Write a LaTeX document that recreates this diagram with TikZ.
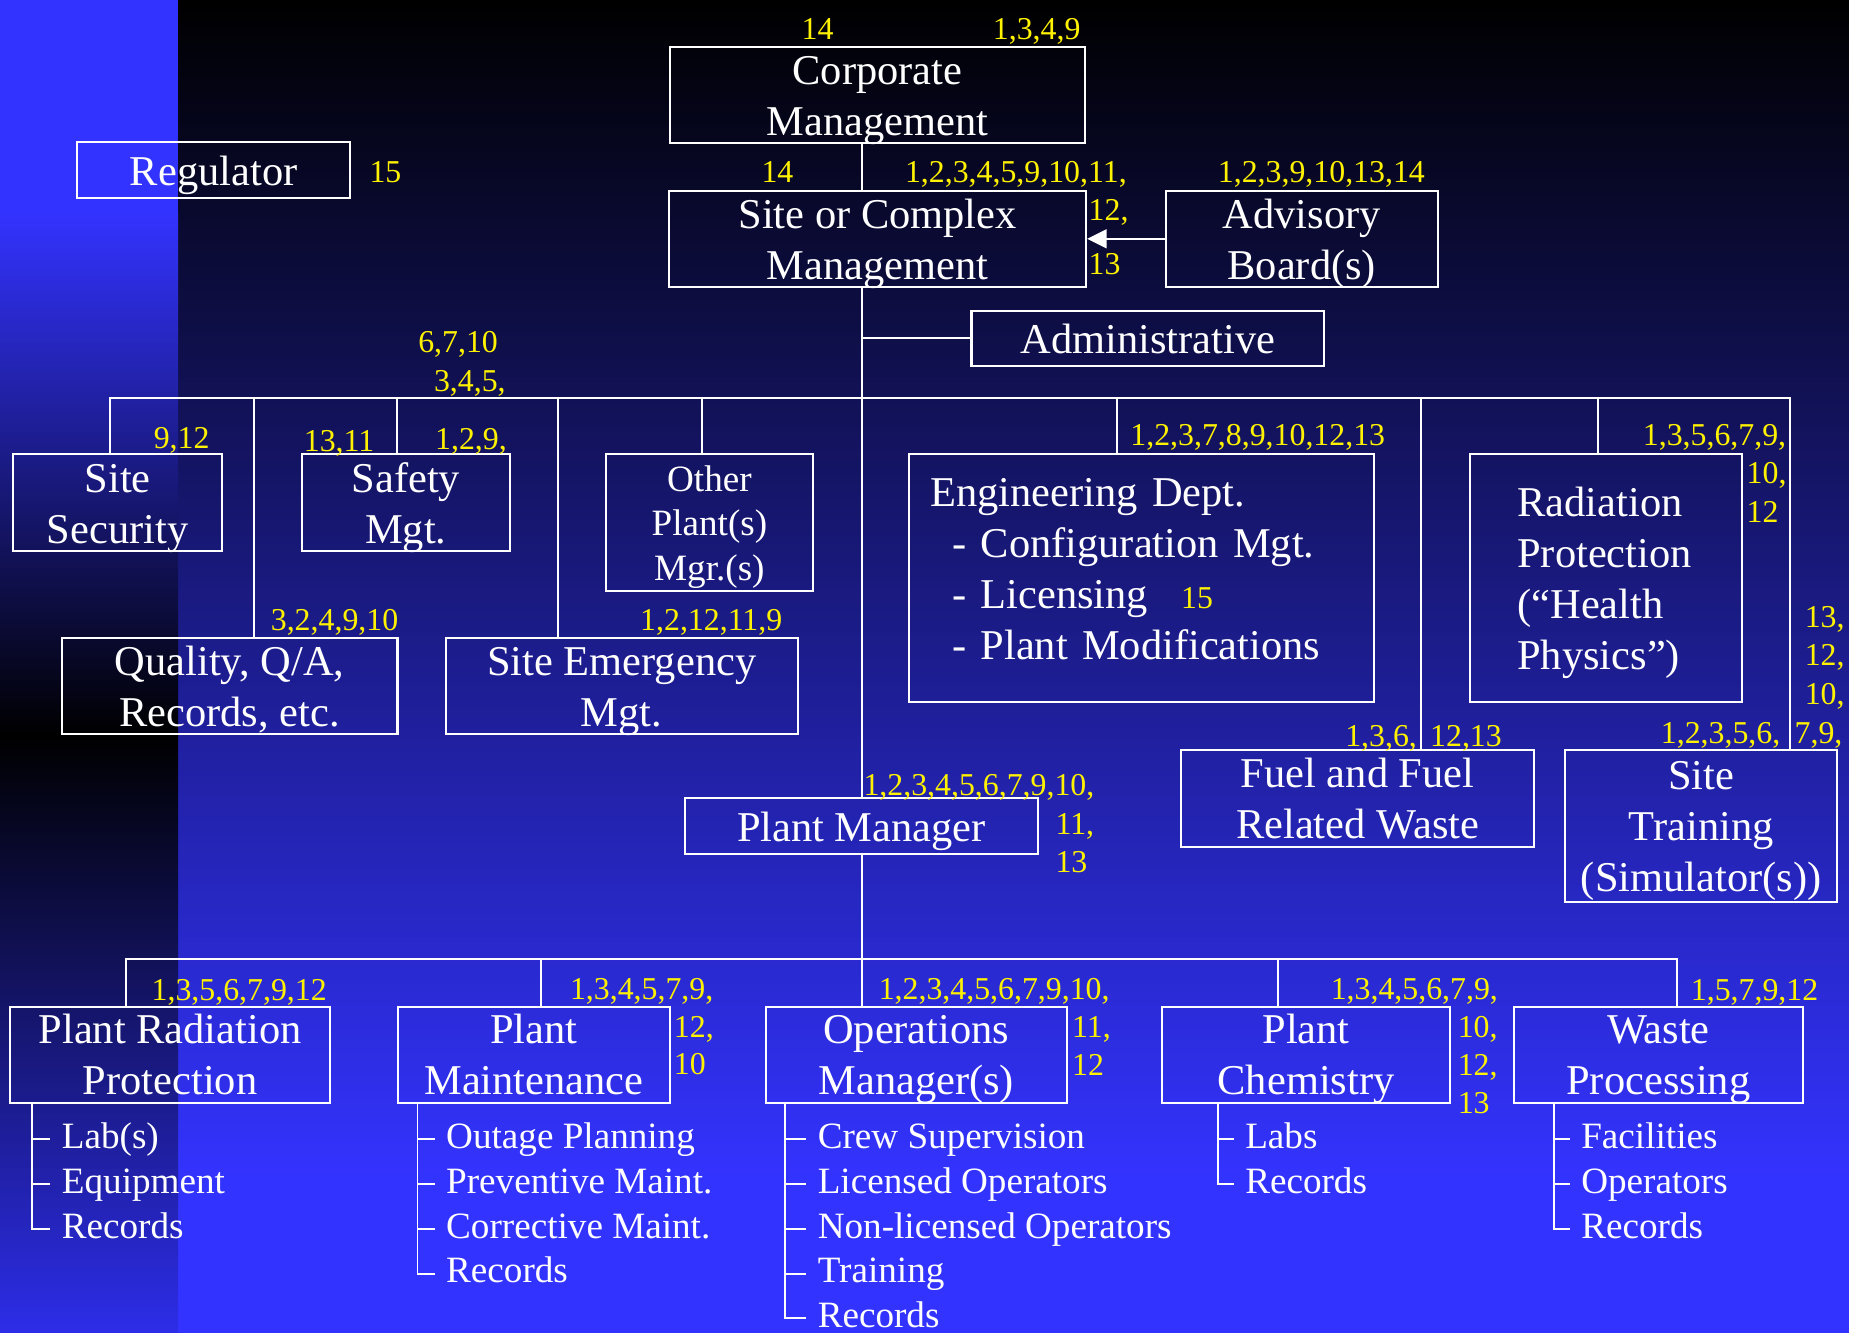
\documentclass[tikz,border=0pt]{standalone}
\usepackage{fontspec}
\setmainfont{Liberation Serif}
\usetikzlibrary{arrows.meta}
\definecolor{bblue}{RGB}{51,51,255}
\definecolor{sblue}{RGB}{45,45,232}
\newcommand\fb{\fontsize{36}{43.2}\selectfont}
\newcommand\fm{\fontsize{31.5}{37.8}\selectfont}
\newcommand\fy{\fontsize{27}{32.4}\selectfont}
\newcommand\sra{\rule[-9pt]{0pt}{43.2pt}}
\newcommand\srb{\rule[-7.9pt]{0pt}{37.8pt}}
\newcommand\src{\rule[-17.6pt]{0pt}{43.2pt}}
\begin{document}
\begin{tikzpicture}[x=1pt,y=-1pt,
 box/.style={draw=white,line width=1.8pt,text=white,font=\fb,align=center,inner xsep=0pt,inner ysep=-3pt},
 conn/.style={draw=white,line width=1.6pt},
 lab/.style={text=yellow,font=\fy,inner sep=0pt,anchor=base west,xshift=-2pt},
 itm/.style={text=white,font=\fm,inner xsep=9.5pt,inner ysep=0pt,anchor=base west,text height=21.5pt,text depth=5.5pt},
]
\useasboundingbox (0,0) rectangle (1568,1130);
% background
\fill[bblue] (0,0) rectangle (1568,1130);
\shade[top color=black,bottom color=bblue] (150.5,0) rectangle (1568,1000);
\fill[bblue] (0,0) rectangle (151,180.5);
\shade[top color=bblue,bottom color=black] (0,180) rectangle (151,623.5);
\shade[top color=black,bottom color=sblue] (0,623) rectangle (151,1130);

% top boxes
\node[box,minimum width=352pt,minimum height=81.6pt] (corp) at (744,80.8) {\sra Corporate\\\sra Management};
\node[box,minimum width=231.6pt,minimum height=47.2pt] (reg) at (181.2,144.3) {\sra Regulator};
\node[box,minimum width=353.7pt,minimum height=81.7pt] (site) at (744.2,202.5) {\sra Site or Complex\\\sra Management};
\node[box,minimum width=231pt,minimum height=81.7pt] (adv) at (1104,202.5) {\sra Advisory\\\sra Board(s)};
\node[box,minimum width=299pt,minimum height=47pt] (admin) at (973.3,287) {\sra Administrative};

% middle row
\node[box,minimum width=177.5pt,minimum height=82pt] (ss) at (99.8,426.3) {\sra Site\\\sra Security};
\node[box,minimum width=176.5pt,minimum height=82pt] (safe) at (344.2,426.3) {\sra Safety\\\sra Mgt.};
\node[box,font=\fm,minimum width=176pt,minimum height=115.8pt] (other) at (601.6,443.2) {\srb Other\\\srb Plant(s)\\\srb Mgr.(s)};
\node[box,minimum width=284.8pt,minimum height=81.4pt] (qa) at (194.7,582) {\sra Quality, Q/A,\\\sra Records, etc.};
\node[box,minimum width=298.5pt,minimum height=81.4pt] (emerg) at (527.2,582) {\sra Site Emergency\\\sra Mgt.};
\node[box,align=left,text width=358pt,inner xsep=18pt,minimum height=210pt] (eng) at (968,490.2)
 {\src Engineering Dept.\\\hspace*{18.7pt}\src- Configuration Mgt.\\\hspace*{18.7pt}\src- Licensing\hspace{28pt}{\color{yellow}\fy 15}\\\hspace*{18.7pt}\src- Plant Modifications};
\node[box,align=left,text width=150.3pt,inner xsep=40.3pt,minimum height=210pt] (rad) at (1361.9,490.2)
 {\sra Radiation\\\sra Protection\\\sra (“Health\\\sra Physics”)};
\node[box,minimum width=298.9pt,minimum height=81.8pt] (fuel) at (1151.3,677.1) {\sra Fuel and Fuel\\\sra Related Waste};
\node[box,minimum width=230.8pt,minimum height=128.5pt] (train) at (1442.6,700.5) {\sra Site\\\sra Training\\\sra (Simulator(s))};
\node[box,minimum width=298.9pt,minimum height=47.3pt] (pm) at (730.5,700.7) {\sra Plant Manager};

% bottom row
\node[box,minimum width=271.5pt,minimum height=81.4pt] (prp) at (144.3,894.3) {\sra Plant Radiation\\\sra Protection};
\node[box,minimum width=230.5pt,minimum height=81.4pt] (maint) at (452.8,894.3) {\sra Plant\\\sra Maintenance};
\node[box,minimum width=255pt,minimum height=81.4pt] (ops) at (777,894.3) {\sra Operations\\\sra Manager(s)};
\node[box,minimum width=244.1pt,minimum height=81.4pt] (chem) at (1107.6,894.3) {\sra Plant\\\sra Chemistry};
\node[box,minimum width=244.6pt,minimum height=81.4pt] (waste) at (1406.3,894.3) {\sra Waste\\\sra Processing};

% connectors
\coordinate (tr) at (730.8,0);
\draw[conn] (corp.south -| tr) -- (site.north -| tr);
\draw[conn] (site.south -| tr) -- (pm.north -| tr);
\draw[conn] (admin.west) -- (admin.west -| tr);
\draw[conn,-{Triangle[length=16.5pt,width=16pt]}] (adv.west) -- (site.east);

\coordinate (t1) at (93,337.8);
\coordinate (t2) at (215.5,337.8);
\coordinate (t3) at (337,337.8);
\coordinate (t4) at (473,337.8);
\coordinate (t5) at (595,337.8);
\coordinate (t6) at (947.5,337.8);
\coordinate (t7) at (1205,337.8);
\coordinate (t8) at (1355,337.8);
\coordinate (t9) at (1517.6,337.8);
\draw[conn] (t1 |- ss.north) -- (t1) -- (t9) -- (t9 |- train.north);
\draw[conn] (t2) -- (t2 |- qa.north);
\draw[conn] (t3) -- (t3 |- safe.north);
\draw[conn] (t4) -- (t4 |- emerg.north);
\draw[conn] (t5) -- (t5 |- other.north);
\draw[conn] (t6) -- (t6 |- eng.north);
\draw[conn] (t7) -- (t7 |- fuel.north);
\draw[conn] (t8) -- (t8 |- rad.north);

\coordinate (u1) at (106.5,813);
\coordinate (u2) at (459,813);
\coordinate (u4) at (1083.5,813);
\coordinate (u5) at (1422,813);
\draw[conn] (u1 |- prp.north) -- (u1) -- (u5) -- (u5 |- waste.north);
\draw[conn] (u2) -- (u2 |- maint.north);
\draw[conn] (u4) -- (u4 |- chem.north);
\draw[conn] (pm.south -| tr) -- (ops.north -| tr);

% labels
\node[lab] (l1) at (681.6,33.4) {14};
\node[lab] (l2) at (843.8,33.4) {1,3,4,9};
\node[lab] (l3) at (647.6,154.5) {14};
\node[lab] (l4) at (769.3,154.5) {1,2,3,4,5,9,10,11,};
\node[lab] (l5) at (925,186.6) {12,};
\node[lab] (l6) at (925,232.4) {13};
\node[lab] (l7) at (1034.6,154.5) {1,2,3,9,10,13,14};
\node[lab] (l8) at (315.2,155) {15};
\node[lab] (l9) at (356.5,299.1) {6,7,10};
\node[lab] (l10) at (369.9,332.2) {3,4,5,};
\node[lab] (l11) at (132.2,380.2) {9,12};
\node[lab] (l12) at (259.5,382.5) {13,11};
\node[lab] (l13) at (370.8,381) {1,2,9,};
\node[lab] (l14) at (231.5,534.8) {3,2,4,9,10};
\node[lab] (l15) at (544.7,534.8) {1,2,12,11,9};
\node[lab] (l16) at (960.4,377.7) {1,2,3,7,8,9,10,12,13};
\node[lab] (l17) at (1395,377.7) {1,3,5,6,7,9,};
\node[lab] (l18) at (1483,409.9) {10,};
\node[lab] (l19) at (1483,442.9) {12};
\node[lab] (l21) at (1532.3,531.9) {13,};
\node[lab] (l22) at (1532.3,564.6) {12,};
\node[lab] (l23) at (1532.3,597.4) {10,};
\node[lab] (l24) at (1523.7,630.3) {7,9,};
\node[lab] (l25) at (1410.3,630.3) {1,2,3,5,6,};
\node[lab] (l26) at (1142.6,633.2) {1,3,6,};
\node[lab] (l27) at (1214.6,633.2) {12,13};
\node[lab] (l28) at (734.1,674.2) {1,2,3,4,5,6,7,9,10,};
\node[lab] (l29) at (896.9,707.7) {11,};
\node[lab] (l30) at (896.9,739.8) {13};
\node[lab] (l31) at (130.4,848.7) {1,3,5,6,7,9,12};
\node[lab] (l32) at (485.2,847.2) {1,3,4,5,7,9,};
\node[lab] (l33) at (573.3,879.7) {12,};
\node[lab] (l34) at (573.3,911.2) {10};
\node[lab] (l35) at (747,847.2) {1,2,3,4,5,6,7,9,10,};
\node[lab] (l36) at (911,880) {11,};
\node[lab] (l37) at (911,912) {12};
\node[lab] (l38) at (1130.3,847.2) {1,3,4,5,6,7,9,};
\node[lab] (l39) at (1238,880) {10,};
\node[lab] (l40) at (1238,912) {12,};
\node[lab] (l41) at (1238,944.6) {13};
\node[lab] (l42) at (1435.7,848.7) {1,5,7,9,12};

% sub-lists
\coordinate (v1) at (27,0);
\node[itm] (a1) at (42.8,974) {Lab(s)};
\node[itm] (a2) at (42.8,1012) {Equipment};
\node[itm] (a3) at (42.8,1050) {Records};
\draw[conn] (prp.south -| v1) |- (a3.west);
\draw[conn] (a1.west -| v1) -- (a1.west);
\draw[conn] (a2.west -| v1) -- (a2.west);

\coordinate (v2) at (354,0);
\node[itm] (b1) at (368.7,974) {Outage Planning};
\node[itm] (b2) at (368.7,1012) {Preventive Maint.};
\node[itm] (b3) at (368.7,1050) {Corrective Maint.};
\node[itm] (b4) at (368.7,1088) {Records};
\draw[conn] (maint.south -| v2) |- (b4.west);
\draw[conn] (b1.west -| v2) -- (b1.west);
\draw[conn] (b2.west -| v2) -- (b2.west);
\draw[conn] (b3.west -| v2) -- (b3.west);

\coordinate (v3) at (666,0);
\node[itm] (c1) at (683.8,974) {Crew Supervision};
\node[itm] (c2) at (683.8,1012) {Licensed Operators};
\node[itm] (c3) at (683.8,1050) {Non-licensed Operators};
\node[itm] (c4) at (683.8,1088) {Training};
\node[itm] (c5) at (683.8,1126) {Records};
\draw[conn] (ops.south -| v3) |- (c5.west);
\draw[conn] (c1.west -| v3) -- (c1.west);
\draw[conn] (c2.west -| v3) -- (c2.west);
\draw[conn] (c3.west -| v3) -- (c3.west);
\draw[conn] (c4.west -| v3) -- (c4.west);

\coordinate (v4) at (1033,0);
\node[itm] (d1) at (1046.3,974) {Labs};
\node[itm] (d2) at (1046.3,1012) {Records};
\draw[conn] (chem.south -| v4) |- (d2.west);
\draw[conn] (d1.west -| v4) -- (d1.west);

\coordinate (v5) at (1317.7,0);
\node[itm] (e1) at (1331.3,974) {Facilities};
\node[itm] (e2) at (1331.3,1012) {Operators};
\node[itm] (e3) at (1331.3,1050) {Records};
\draw[conn] (waste.south -| v5) |- (e3.west);
\draw[conn] (e1.west -| v5) -- (e1.west);
\draw[conn] (e2.west -| v5) -- (e2.west);
\end{tikzpicture}
\end{document}
